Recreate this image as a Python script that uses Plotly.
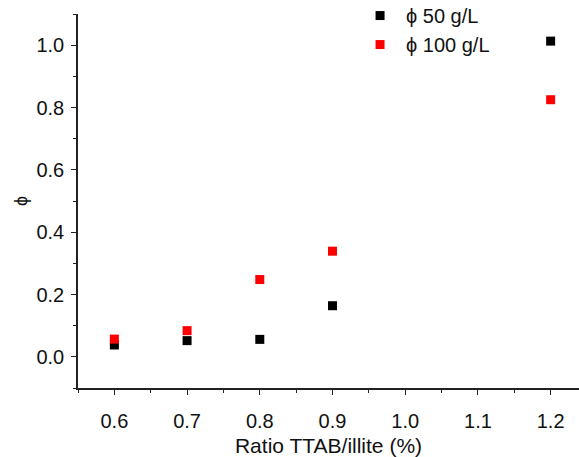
import plotly.graph_objects as go

ratio = [0.6, 0.7, 0.8, 0.9, 1.2]
phi_50 = [0.038, 0.052, 0.056, 0.164, 1.013]
phi_100 = [0.057, 0.084, 0.248, 0.339, 0.825]

FONT = "Liberation Sans, Arial, sans-serif"

fig = go.Figure()
fig.add_trace(go.Scatter(x=ratio, y=phi_50, mode="markers", name="ϕ 50 g/L",
                         legendgroup="a",
                         marker=dict(symbol="square", size=9, color="#000000")))
fig.add_trace(go.Scatter(x=ratio, y=phi_100, mode="markers", name="ϕ 100 g/L",
                         legendgroup="b",
                         marker=dict(symbol="square", size=9, color="#ff0000")))

axis_common = dict(
    showline=True, linecolor="#222222", linewidth=1.5,
    ticks="outside", ticklen=5, tickwidth=1.3, tickcolor="#222222",
    showgrid=False, zeroline=False, mirror=False,
    tickfont=dict(family=FONT, size=20, color="#111111"),
)

fig.update_xaxes(
    range=[0.55, 1.239], tickmode="array",
    tickvals=[0.6, 0.7, 0.8, 0.9, 1.0, 1.1, 1.2],
    ticktext=["0.6", "0.7", "0.8", "0.9", "1.0", "1.1", "1.2"],
    minor=dict(tickvals=[0.55, 0.65, 0.75, 0.85, 0.95, 1.05, 1.15],
               ticks="outside", ticklen=3, tickwidth=1.2, tickcolor="#222222"),
    title=dict(text="Ratio TTAB/illite (%)", font=dict(family=FONT, size=21, color="#111111"),
               standoff=8),
    ticklabelstandoff=9,
    automargin=False,
    **axis_common,
)
fig.update_yaxes(
    range=[-0.1, 1.1], tickmode="array",
    tickvals=[0.0, 0.2, 0.4, 0.6, 0.8, 1.0],
    ticktext=["0.0", "0.2", "0.4", "0.6", "0.8", "1.0"],
    minor=dict(tickvals=[-0.1, 0.1, 0.3, 0.5, 0.7, 0.9, 1.1],
               ticks="outside", ticklen=3, tickwidth=1.2, tickcolor="#222222"),
    title=dict(text="ϕ", font=dict(family=FONT, size=18, color="#111111"), standoff=4),
    ticklabelstandoff=3,
    automargin=False,
    **axis_common,
)

fig.update_layout(
    width=579, height=457,
    margin=dict(l=78, r=0, t=14, b=69, autoexpand=False),
    plot_bgcolor="white", paper_bgcolor="white",
    showlegend=True,
    legend=dict(x=0.551, y=1.048, xanchor="left", yanchor="top",
                bgcolor="rgba(0,0,0,0)", itemwidth=42, tracegroupgap=0,
                font=dict(family=FONT, size=20, color="#111111")),
)

fig.write_html("out.html", config={"displayModeBar": False},
               post_script="document.body.style.margin='0';")
